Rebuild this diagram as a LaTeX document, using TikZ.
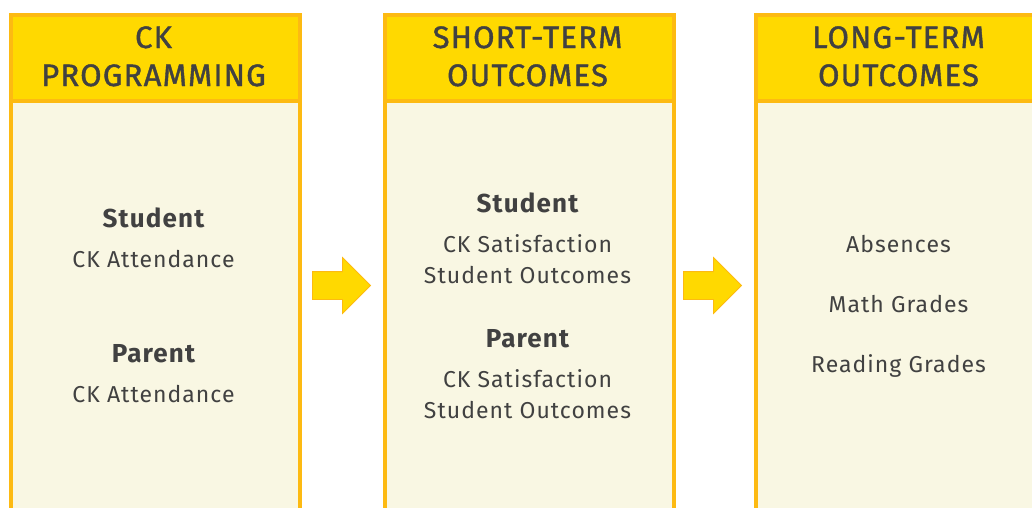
\documentclass[tikz,border=0pt]{standalone}
\usepackage{fontspec}
\setmainfont{Fira Sans}
\newfontfamily\ckheadfont{Fira Sans}[FakeBold=1.3, LetterSpace=4]
\newfontfamily\ckgroupfont{Fira Sans}[LetterSpace=4.5]
\newfontfamily\ckitemfont{Fira Sans}[LetterSpace=4.5]
\usetikzlibrary{shapes.arrows,positioning}

\definecolor{ckyellow}{HTML}{FFD900}
\definecolor{ckorange}{HTML}{FDBA12}
\definecolor{ckcream}{HTML}{F9F7E3}
\definecolor{cktext}{HTML}{414141}

\tikzset{
  colbody/.style={draw=ckorange, line width=4pt, fill=ckcream, anchor=north west,
    minimum width=289pt, minimum height=440pt, inner sep=0pt},
  colhead/.style={draw=ckorange, line width=4pt, fill=ckyellow, anchor=north west,
    minimum width=289pt, minimum height=85.5pt, inner sep=0pt},
  headtext/.style={text=cktext, anchor=base, inner sep=0pt, font=\ckheadfont\fontsize{31}{38}\selectfont},
  grouptext/.style={text=cktext, anchor=base, inner sep=0pt, font=\ckgroupfont\fontsize{26}{30}\selectfont\bfseries},
  itemtext/.style={text=cktext, anchor=base, inner sep=0pt, font=\ckitemfont\fontsize{23}{30}\selectfont},
  flowarrow/.style={single arrow, draw=ckorange, fill=ckyellow, line width=0.8pt,
    inner xsep=0pt, inner ysep=13.5pt, minimum height=58pt, single arrow head extend=14pt}
}

\begin{document}
\begin{tikzpicture}[x=1pt,y=-1pt]
  \useasboundingbox (0,0) rectangle (1032,507);
  \clip (0,0) rectangle (1032,507);

  % the three columns
  \foreach \x/\n in {9/A, 383/B, 754/C} {
    \node[colbody] (body\n) at (\x,98.5) {};
    \node[colhead] (head\n) at (\x,13) {};
  }

  % column titles
  \foreach \x/\y/\t [count=\i] in {153.5/48/CK, 153.5/86/PROGRAMMING,
      527.5/48/SHORT-TERM, 527.5/86/OUTCOMES,
      898.5/48/LONG-TERM, 898.5/86/OUTCOMES} {
    \node[headtext] (title\i) at (\x,\y) {\t};
  }

  % group labels
  \foreach \x/\y/\t [count=\i] in {153.5/227/Student, 153.5/362/Parent,
      527.5/212/Student, 527.5/347/Parent} {
    \node[grouptext] (group\i) at (\x,\y) {\t};
  }

  % measures
  \foreach \x/\y/\t [count=\i] in {153.5/267/CK Attendance, 153.5/402/CK Attendance,
      527.5/252/CK Satisfaction, 527.5/283/Student Outcomes,
      527.5/387/CK Satisfaction, 527.5/418/Student Outcomes,
      898.5/252/Absences, 898.5/312/Math Grades, 898.5/372/Reading Grades} {
    \node[itemtext] (item\i) at (\x,\y) {\t};
  }

  % arrows between columns
  \node[flowarrow] (flowAB) at (334.5,285.5) {};
  \node[flowarrow] (flowBC) at (705.5,285.5) {};
\end{tikzpicture}
\end{document}
